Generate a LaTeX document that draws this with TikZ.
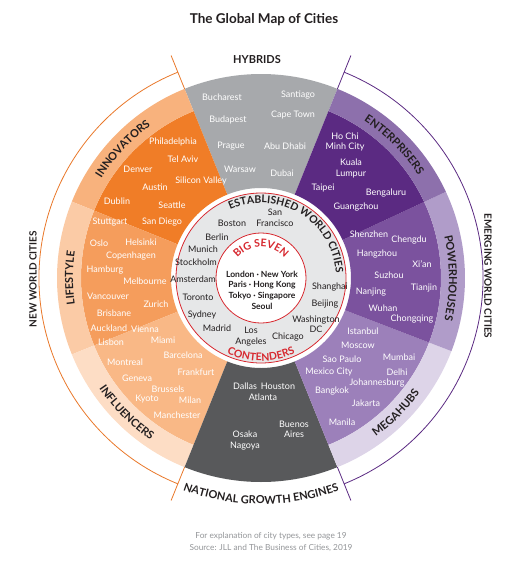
\documentclass[tikz,border=0pt]{standalone}
\usepackage{fontspec}
\setmainfont{Lato}
\usepackage{xcolor}
\usepackage{tikz}
\usetikzlibrary{decorations.text}

\definecolor{ink}{HTML}{231F20}
\definecolor{hybgray}{HTML}{A7A9AC}
\definecolor{ngedark}{HTML}{58595B}
\definecolor{innowedge}{HTML}{F07D27}
\definecolor{innoband}{HTML}{F8B27D}
\definecolor{lifewedge}{HTML}{F59D5C}
\definecolor{lifeband}{HTML}{FBCBA6}
\definecolor{inflwedge}{HTML}{F9B886}
\definecolor{inflband}{HTML}{FDDDC5}
\definecolor{entwedge}{HTML}{5B2A82}
\definecolor{entband}{HTML}{8D70AC}
\definecolor{powwedge}{HTML}{7B529E}
\definecolor{powband}{HTML}{B09CC9}
\definecolor{megawedge}{HTML}{9C80BA}
\definecolor{megaband}{HTML}{DDD4E8}
\definecolor{estdisk}{HTML}{E6E7E8}
\definecolor{bigred}{HTML}{D7282F}
\definecolor{neworange}{HTML}{E9782A}
\definecolor{emergpurple}{HTML}{5B2A82}
\definecolor{notegray}{HTML}{939598}

\newcommand{\cityfont}{\fontsize{9}{10.5}\selectfont}
\newcommand{\bandfont}{\fontsize{11}{13}\selectfont\bfseries}
\newcommand{\estfont}{\fontsize{10.5}{12}\selectfont\bfseries}

% annular sector: start angle, end angle, inner radius, outer radius, colour
\newcommand{\ringpart}[5]{%
  \fill[#5] (#1:#3) arc[start angle=#1, end angle=#2, radius=#3]
    -- (#2:#4) arc[start angle=#2, end angle=#1, radius=#4] -- cycle;}

\begin{document}
\begin{tikzpicture}[
  x=1pt, y=1pt,
  city/.style={font=\cityfont, text=white, align=center, inner sep=0pt},
  estcity/.style={city, text=ink},
  curved/.style n args={3}{decorate, decoration={text along path, text align=center, text color=#2, text={|#1|#3}}},
  groupline/.style={draw=#1, line width=0.8pt}
]
\useasboundingbox (0,0) rectangle (532,-566);

% Title
\node[font=\fontsize{13.5}{15}\selectfont\bfseries, text=ink] (title) at (264,-20) {The Global Map of Cities};

\begin{scope}[shift={(261,-278)}]
% Wheel sectors
\ringpart{68}{112}{90pt}{204pt}{hybgray}
\ringpart{112}{158}{90pt}{180pt}{innowedge}
\ringpart{112}{158}{180pt}{204pt}{innoband}
\ringpart{158}{202}{90pt}{180pt}{lifewedge}
\ringpart{158}{202}{180pt}{204pt}{lifeband}
\ringpart{202}{248}{90pt}{180pt}{inflwedge}
\ringpart{202}{248}{180pt}{204pt}{inflband}
\ringpart{248}{292}{90pt}{204pt}{ngedark}
\ringpart{292}{339}{90pt}{180pt}{megawedge}
\ringpart{292}{339}{180pt}{204pt}{megaband}
\ringpart{-21}{25}{90pt}{180pt}{powwedge}
\ringpart{-21}{25}{180pt}{204pt}{powband}
\ringpart{25}{68}{90pt}{180pt}{entwedge}
\ringpart{25}{68}{180pt}{204pt}{entband}

% Established world cities and big seven
\draw[bigred, fill=estdisk, line width=0.8pt] (0,0) circle[radius=85pt];
\draw[bigred, fill=white, line width=0.8pt] (0,0) circle[radius=45pt];

% New world / emerging world brackets
\draw[groupline=neworange] (112:204pt) -- (112:240pt);
\draw[groupline=neworange] (248:204pt) -- (248:240pt);
\draw[groupline=neworange] (112:222pt) arc[start angle=112, end angle=248, radius=222pt];
\draw[groupline=emergpurple] (68:204pt) -- (68:240pt);
\draw[groupline=emergpurple] (-68:204pt) -- (-68:240pt);
\draw[groupline=emergpurple] (-68:222pt) arc[start angle=-68, end angle=68, radius=222pt];

% Curved labels
\path[curved={\bandfont}{ink}{INNOVATORS}] (162:188pt) arc[start angle=162, end angle=112, radius=188pt];
\path[curved={\bandfont}{ink}{LIFESTYLE}] (205:188pt) arc[start angle=205, end angle=155, radius=188pt];
\path[curved={\bandfont}{ink}{INFLUENCERS}] (198:196pt) arc[start angle=198, end angle=252, radius=196pt];
\path[curved={\bandfont}{ink}{ENTERPRISERS}] (72:188pt) arc[start angle=72, end angle=18, radius=188pt];
\path[curved={\bandfont}{ink}{POWERHOUSES}] (28:188pt) arc[start angle=28, end angle=-28, radius=188pt];
\path[curved={\bandfont}{ink}{MEGAHUBS}] (288:196pt) arc[start angle=288, end angle=342, radius=196pt];
\path[curved={\bandfont}{ink}{NATIONAL GROWTH ENGINES}] (225:226pt) arc[start angle=225, end angle=315, radius=226pt];
\path[curved={\estfont}{ink}{ESTABLISHED WORLD CITIES}] (132:75pt) arc[start angle=132, end angle=-14, radius=75pt];
\path[curved={\estfont}{bigred}{BIG SEVEN}] (155:31pt) arc[start angle=155, end angle=25, radius=31pt];
\path[curved={\estfont}{bigred}{CONTENDERS}] (225:83pt) arc[start angle=225, end angle=315, radius=83pt];
\end{scope}

% Group labels
\node[font=\bandfont, text=ink] (hybrids) at (257,-60) {HYBRIDS};
\node[font=\fontsize{10}{12}\selectfont\bfseries, text=ink, rotate=90] (newworld) at (33,-279) {NEW WORLD CITIES};
\node[font=\fontsize{10}{12}\selectfont\bfseries, text=ink, rotate=-90] (emerging) at (488,-276) {EMERGING WORLD CITIES};

% Hybrids
\node[city] (bucharest) at (222,-97) {Bucharest};
\node[city] (santiago) at (298,-95) {Santiago};
\node[city] (budapest) at (228,-120) {Budapest};
\node[city] (capetown) at (293,-115) {Cape Town};
\node[city] (prague) at (231,-146) {Prague};
\node[city] (abudhabi) at (285,-146) {Abu Dhabi};
\node[city] (warsaw) at (240,-169) {Warsaw};
\node[city] (dubai) at (282,-173) {Dubai};

% Innovators
\node[city] (philadelphia) at (173,-142) {Philadelphia};
\node[city] (telaviv) at (183,-159) {Tel Aviv};
\node[city] (denver) at (138,-169) {Denver};
\node[city] (siliconvalley) at (201,-181) {Silicon Valley};
\node[city] (austin) at (155,-187) {Austin};
\node[city] (dublin) at (117,-201) {Dublin};
\node[city] (seattle) at (172,-205) {Seattle};
\node[city] (sandiego) at (162,-222) {San Diego};

% Lifestyle
\node[city] (stuttgart) at (110,-222) {Stuttgart};
\node[city] (oslo) at (99,-243) {Oslo};
\node[city] (helsinki) at (141,-242) {Helsinki};
\node[city] (copenhagen) at (131,-256) {Copenhagen};
\node[city] (hamburg) at (105,-270) {Hamburg};
\node[city] (melbourne) at (145,-281) {Melbourne};
\node[city] (vancouver) at (108,-296) {Vancouver};
\node[city] (zurich) at (156,-304) {Zurich};
\node[city] (brisbane) at (114,-313) {Brisbane};
\node[city] (auckland) at (109,-328) {Auckland};
\node[city] (vienna) at (145,-329) {Vienna};
\node[city] (lisbon) at (111,-342) {Lisbon};
\node[city] (miami) at (163,-340) {Miami};

% Influencers
\node[city] (barcelona) at (183,-355) {Barcelona};
\node[city] (montreal) at (125,-362) {Montreal};
\node[city] (frankfurt) at (196,-372) {Frankfurt};
\node[city] (geneva) at (137,-378) {Geneva};
\node[city] (brussels) at (168,-389) {Brussels};
\node[city] (kyoto) at (147,-399) {Kyoto};
\node[city] (milan) at (190,-400) {Milan};
\node[city] (manchester) at (177,-415) {Manchester};

% National growth engines
\node[city] (dallas) at (245,-386) {Dallas};
\node[city] (houston) at (278,-386) {Houston};
\node[city] (atlanta) at (263,-397) {Atlanta};
\node[city] (buenosaires) at (294,-429.5) {Buenos\\Aires};
\node[city] (osaka) at (245,-440.5) {Osaka\\Nagoya};

% Enterprisers
\node[city] (hochiminh) at (345,-142) {Ho Chi\\Minh City};
\node[city] (kualalumpur) at (351,-168.5) {Kuala\\Lumpur};
\node[city] (taipei) at (323,-188) {Taipei};
\node[city] (bengaluru) at (386,-193) {Bengaluru};
\node[city] (guangzhou) at (356,-207) {Guangzhou};

% Powerhouses
\node[city] (shenzhen) at (369,-234) {Shenzhen};
\node[city] (chengdu) at (409,-240) {Chengdu};
\node[city] (hangzhou) at (377,-254) {Hangzhou};
\node[city] (xian) at (422,-264) {Xi'an};
\node[city] (suzhou) at (389,-275) {Suzhou};
\node[city] (tianjin) at (424,-288) {Tianjin};
\node[city] (nanjing) at (371,-292) {Nanjing};
\node[city] (wuhan) at (383,-308) {Wuhan};
\node[city] (chongqing) at (412,-319) {Chongqing};

% Megahubs
\node[city] (istanbul) at (363,-331) {Istanbul};
\node[city] (moscow) at (358,-345) {Moscow};
\node[city] (saopaulo) at (342,-359) {Sao Paulo};
\node[city] (mumbai) at (399,-357) {Mumbai};
\node[city] (mexicocity) at (329,-372) {Mexico City};
\node[city] (delhi) at (397,-372) {Delhi};
\node[city] (johannesburg) at (377,-383) {Johannesburg};
\node[city] (bangkok) at (332,-391) {Bangkok};
\node[city] (jakarta) at (366,-403) {Jakarta};
\node[city] (manila) at (342,-422) {Manila};

% Established world cities
\node[estcity] (boston) at (232,-223) {Boston};
\node[estcity] (sanfrancisco) at (275,-218) {San\\Francisco};
\node[estcity] (berlin) at (217,-237) {Berlin};
\node[estcity] (munich) at (203,-249) {Munich};
\node[estcity] (stockholm) at (196,-262) {Stockholm};
\node[estcity] (amsterdam) at (193,-279) {Amsterdam};
\node[estcity] (toronto) at (198,-297) {Toronto};
\node[estcity] (sydney) at (202,-315) {Sydney};
\node[estcity] (madrid) at (217,-328) {Madrid};
\node[estcity] (losangeles) at (251,-336.5) {Los\\Angeles};
\node[estcity] (chicago) at (288,-337) {Chicago};
\node[estcity] (washington) at (316,-324) {Washington\\DC};
\node[estcity] (beijing) at (325,-304) {Beijing};
\node[estcity] (shanghai) at (330,-287) {Shanghai};

% Big seven
\node[estcity, font=\fontsize{8.5}{10.7}\selectfont\bfseries] (bigseven) at (262,-290)
  {London · New York\\Paris · Hong Kong\\Tokyo · Singapore\\Seoul};

% Notes
\node[font=\fontsize{8.3}{12}\selectfont, text=notegray, align=center] (note) at (271,-542)
  {For explanation of city types, see page 19\\Source: JLL and The Business of Cities, 2019};

\end{tikzpicture}
\end{document}
